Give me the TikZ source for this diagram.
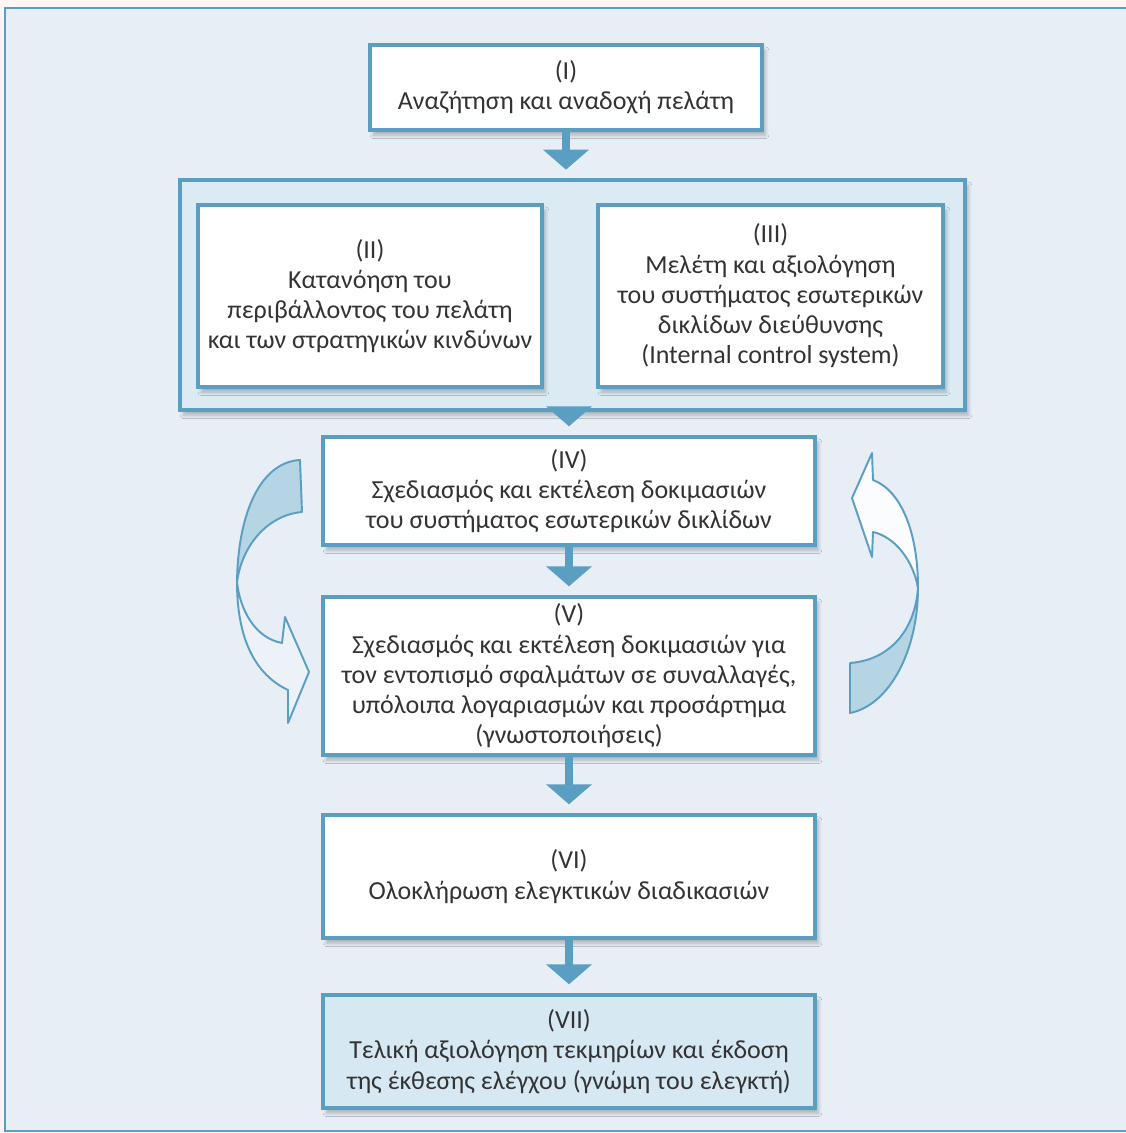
\documentclass[tikz,border=0pt]{standalone}
\usepackage{fontspec}
\setmainfont{Carlito}
\usetikzlibrary{arrows.meta,shadows.blur}
\definecolor{frameblue}{HTML}{5A9EC2}
\definecolor{pagebg}{HTML}{E7EEF5}
\definecolor{groupbg}{HTML}{DCEBF3}
\definecolor{lastbg}{HTML}{D6E8F2}
\definecolor{ribbon}{HTML}{B5D4E4}
\definecolor{textgray}{HTML}{333333}
\tikzset{>={Triangle[width=0.9cm,length=0.4cm]},
  stage/.style={draw=frameblue, line width=2.2pt, fill=white, align=center, text=textgray,
    font=\fontsize{14.8}{17.2}\selectfont, inner sep=0pt,
    blur shadow={shadow xshift=2pt, shadow yshift=-3pt, shadow opacity=25, shadow blur steps=6}},
  flow/.style={->, draw=frameblue, line width=4pt, shorten >=5pt},
  twist/.style={draw=frameblue, line width=1.1pt, line join=round}}

\begin{document}
\begin{tikzpicture}[x=0.02cm, y=-0.02cm]
\useasboundingbox (0,0) rectangle (1126,1133);
\fill[white!60!pink!40!white] (0,0) rectangle (1126,1133);
\fill[pagebg] (5,8) rectangle (1126,1131);
\draw[frameblue, line width=1.6pt] (1126,8) -- (5,8) -- (5,1131) -- (1126,1131);

\node[stage, minimum width=7.84cm, minimum height=1.7cm] (I) at (566,87.5)
  {(I)\\Αναζήτηση και αναδοχή πελάτη};
\node[stage, fill=groupbg, line width=1.8pt, minimum width=15.7cm, minimum height=4.6cm] (grp) at (572.5,295) {};
\node[stage, minimum width=6.88cm, minimum height=3.64cm] (II) at (370,296)
  {(II)\\Κατανόηση του\\περιβάλλοντος του πελάτη\\και των στρατηγικών κινδύνων};
\node[stage, minimum width=6.9cm, minimum height=3.64cm] (III) at (770.5,296)
  {(III)\\Μελέτη και αξιολόγηση\\του συστήματος εσωτερικών\\δικλίδων διεύθυνσης\\(Internal control system)};
\node[stage, minimum width=9.84cm, minimum height=2.16cm] (IV) at (569,491)
  {(IV)\\Σχεδιασμός και εκτέλεση δοκιμασιών\\του συστήματος εσωτερικών δικλίδων};
\node[stage, minimum width=9.84cm, minimum height=3.16cm] (V) at (569,676)
  {(V)\\Σχεδιασμός και εκτέλεση δοκιμασιών για\\τον εντοπισμό σφαλμάτων σε συναλλαγές,\\υπόλοιπα λογαριασμών και προσάρτημα\\(γνωστοποιήσεις)};
\node[stage, minimum width=9.84cm, minimum height=2.46cm] (VI) at (569,876.5)
  {(VI)\\Ολοκλήρωση ελεγκτικών διαδικασιών};
\node[stage, fill=lastbg, minimum width=9.84cm, minimum height=2.26cm] (VII) at (569,1051.5)
  {(VII)\\Τελική αξιολόγηση τεκμηρίων και έκδοση\\της έκθεσης ελέγχου (γνώμη του ελεγκτή)};

\draw[flow] (I.south) -- (I.south |- grp.north);
\draw[flow] (IV.north |- grp.south) -- (IV.north);
\foreach \a/\b in {IV/V, V/VI, VI/VII}
  \draw[flow] (\a) -- (\b);

% loop arrows beside IV and V
\filldraw[twist, fill=ribbon] (300,460) .. controls (262,462) and (238,510) .. (237,582)
  .. controls (242,545) and (268,515) .. (302,512) -- cycle;
\filldraw[twist, fill=white!25!pagebg] (237,582) .. controls (240,610) and (255,638) .. (282,643)
  -- (285,617) -- (309,672) -- (288,723) -- (288,690)
  .. controls (250,672) and (237,630) .. (237,582) -- cycle;
\filldraw[twist, fill=ribbon] (918,588) .. controls (918,650) and (890,705) .. (850,713)
  -- (850,663) .. controls (890,660) and (915,630) .. (918,588) -- cycle;
\filldraw[twist, fill=white!85!pagebg] (918,588) .. controls (918,530) and (900,490) .. (873,480)
  -- (872,453) -- (852,498) -- (872,557) -- (873,532)
  .. controls (895,537) and (913,560) .. (918,588) -- cycle;
\end{tikzpicture}
\end{document}
